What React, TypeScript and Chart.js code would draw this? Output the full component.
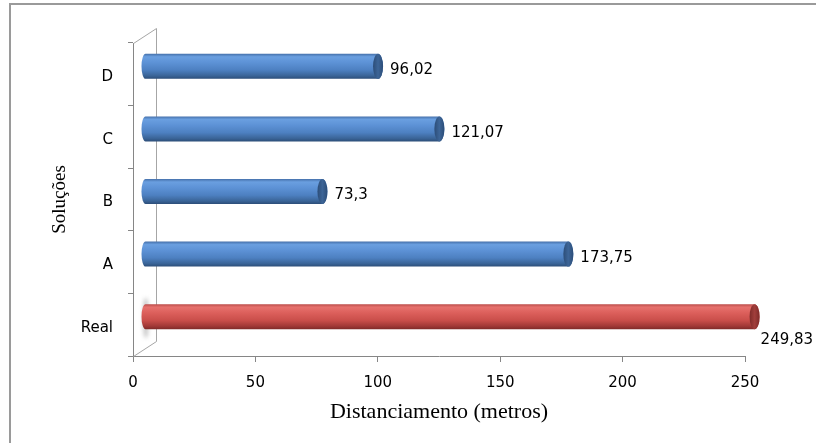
import React, { useEffect, useRef } from 'react';
import { Chart, registerables } from 'chart.js';

Chart.register(...registerables);

// ---- data ----
const categories = ['Real', 'A', 'B', 'C', 'D'];
const distances = [249.83, 173.75, 73.3, 121.07, 96.02];
const barKinds = ['red', 'blue', 'blue', 'blue', 'blue'];
const xTickValues = [0, 50, 100, 150, 200, 250];
const yAxisTitle = 'Soluções';
const xAxisTitle = 'Distanciamento (metros)';

const palettes: Record<string, { stops: [number, string][]; cap: string; capEdge: string }> = {
  blue: {
    stops: [
      [0, '#4570aa'],
      [0.12, '#6a9fe0'],
      [0.35, '#5d92d6'],
      [0.65, '#4d80c1'],
      [0.88, '#3a6497'],
      [1, '#2c4d78'],
    ],
    cap: '#3d6597',
    capEdge: '#2c4d78',
  },
  red: {
    stops: [
      [0, '#ba4c49'],
      [0.12, '#e6716d'],
      [0.35, '#dc5f5b'],
      [0.65, '#c94e4a'],
      [0.88, '#a03836'],
      [1, '#7e2a28'],
    ],
    cap: '#a13e3b',
    capEdge: '#7e2b29',
  },
};

const DX = 10;
const DY = -8;
const WALL_DX = 23;
const WALL_DY = -15;
const TICK_FONT = '"DejaVu Sans", sans-serif';
const TICK_SIZE = 15;

const formatValue = (v: number) => String(v).replace('.', ',');

const framePlugin = {
  id: 'frame3d',
  beforeDraw(chart: any) {
    const { ctx } = chart;
    ctx.save();
    ctx.fillStyle = '#ffffff';
    ctx.fillRect(0, 0, chart.width, chart.height);
    ctx.strokeStyle = '#9a9a9a';
    ctx.lineWidth = 2;
    ctx.strokeRect(10, 4, chart.width + 50, chart.height + 50);
    ctx.restore();
  },
  beforeDatasetsDraw(chart: any) {
    const { ctx, chartArea } = chart;
    const { left, top, bottom } = chartArea;
    ctx.save();
    ctx.strokeStyle = '#a6a6a6';
    ctx.lineWidth = 1;
    ctx.beginPath();
    ctx.moveTo(left + 0.5, top + 0.5);
    ctx.lineTo(left + WALL_DX + 0.5, top + WALL_DY + 0.5);
    ctx.lineTo(left + WALL_DX + 0.5, bottom + WALL_DY + 0.5);
    ctx.lineTo(left + 0.5, bottom + 0.5);
    ctx.stroke();
    // faint shadow on the wall next to the bottom bar
    ctx.filter = 'blur(2px)';
    const g = ctx.createLinearGradient(left + 8, 0, left + 17, 0);
    g.addColorStop(0, 'rgba(120,120,120,0)');
    g.addColorStop(0.5, 'rgba(110,110,110,0.55)');
    g.addColorStop(1, 'rgba(120,120,120,0)');
    ctx.fillStyle = g;
    ctx.beginPath();
    ctx.ellipse(left + 13, bottom - 38, 3, 20, 0, 0, Math.PI * 2);
    ctx.fill();
    ctx.filter = 'none';
    ctx.restore();
  },
};

const cylinderPlugin = {
  id: 'cylinders',
  beforeDatasetDraw(chart: any, args: any) {
    const { ctx } = chart;
    const meta = args.meta;
    ctx.save();
    meta.data.forEach((el: any, i: number) => {
      const { x, y, base, height } = el.getProps(['x', 'y', 'base', 'height'], true);
      const pal = palettes[barKinds[i]];
      const h = height;
      const cy = y + DY;
      const top = cy - h / 2;
      const bot = cy + h / 2;
      const xL = base + DX + 2;
      const xR = x + DX;
      const rx = 5;
      const rxL = 4;
      const grad = ctx.createLinearGradient(0, top, 0, bot);
      pal.stops.forEach(([o, c]) => grad.addColorStop(o, c));
      ctx.beginPath();
      ctx.moveTo(xL, top);
      ctx.lineTo(xR, top);
      ctx.ellipse(xR, cy, rx, h / 2, 0, -Math.PI / 2, Math.PI / 2);
      ctx.lineTo(xL, bot);
      ctx.ellipse(xL, cy, rxL, h / 2, 0, Math.PI / 2, (3 * Math.PI) / 2);
      ctx.closePath();
      ctx.fillStyle = grad;
      ctx.fill();
      // end cap
      ctx.beginPath();
      ctx.ellipse(xR, cy, rx, h / 2, 0, 0, Math.PI * 2);
      const cg = ctx.createLinearGradient(xR - rx, 0, xR + rx, 0);
      cg.addColorStop(0, pal.capEdge);
      cg.addColorStop(0.5, pal.cap);
      cg.addColorStop(1, pal.capEdge);
      ctx.fillStyle = cg;
      ctx.fill();
    });
    ctx.restore();
    return false;
  },
  afterDatasetsDraw(chart: any) {
    const { ctx } = chart;
    const meta = chart.getDatasetMeta(0);
    ctx.save();
    ctx.font = `${TICK_SIZE}px ${TICK_FONT}`;
    ctx.fillStyle = '#000000';
    ctx.textAlign = 'left';
    ctx.textBaseline = 'middle';
    meta.data.forEach((el: any, i: number) => {
      const { x, y } = el.getProps(['x', 'y'], true);
      const text = formatValue(distances[i]);
      const w = ctx.measureText(text).width;
      const xR = x + DX;
      let tx = xR + 12;
      let ty = y + DY + 4;
      if (tx + w > chart.width - 4) {
        tx = xR + 6;
        ty = y + DY + 23;
      }
      ctx.fillText(text, tx, ty);
    });
    ctx.restore();
  },
};

export default function App() {
  const canvasRef = useRef<HTMLCanvasElement | null>(null);

  useEffect(() => {
    const canvas = canvasRef.current;
    if (!canvas) return;
    const chart = new Chart(canvas, {
      type: 'bar',
      data: {
        labels: categories,
        datasets: [
          {
            data: distances,
            backgroundColor: barKinds.map((k) => (k === 'red' ? '#c0504d' : '#4f81bd')),
            categoryPercentage: 1,
            barPercentage: 0.4,
          },
        ],
      },
      options: {
        indexAxis: 'y',
        responsive: false,
        animation: false,
        events: [],
        layout: { padding: { left: 40, top: 43, right: 71, bottom: 0 } },
        plugins: {
          legend: { display: false },
          tooltip: { enabled: false },
          title: { display: false },
        },
        scales: {
          x: {
            type: 'linear',
            min: xTickValues[0],
            max: xTickValues[xTickValues.length - 1],
            afterFit: (scale: any) => {
              scale.height = 87;
            },
            afterBuildTicks: (scale: any) => {
              scale.ticks = xTickValues.map((v) => ({ value: v }));
            },
            ticks: {
              color: '#000000',
              font: { family: TICK_FONT, size: TICK_SIZE },
              padding: 12,
              maxRotation: 0,
            },
            grid: {
              display: true,
              drawOnChartArea: false,
              drawTicks: true,
              tickLength: 6,
              color: '#868686',
            },
            border: { display: true, color: '#868686', width: 1 },
            title: {
              display: true,
              text: xAxisTitle,
              color: '#000000',
              font: { family: '"Liberation Serif", "Times New Roman", serif', size: 22 },
              padding: { top: 0, bottom: 18 },
            },
          },
          y: {
            type: 'category',
            reverse: true,
            afterFit: (scale: any) => {
              scale.width = 93;
            },
            ticks: {
              color: '#000000',
              font: { family: TICK_FONT, size: TICK_SIZE },
              padding: 15,
              labelOffset: 3,
            },
            grid: {
              display: true,
              offset: true,
              drawOnChartArea: false,
              drawTicks: true,
              tickLength: 5,
              color: '#868686',
            },
            border: { display: true, color: '#868686', width: 1 },
            title: {
              display: true,
              text: yAxisTitle,
              color: '#000000',
              font: { family: '"Liberation Serif", "Times New Roman", serif', size: 19 },
              padding: { top: 9, bottom: 0 },
            },
          },
        },
      },
      plugins: [framePlugin, cylinderPlugin],
    });
    return () => chart.destroy();
  }, []);

  return (
    <div style={{ position: 'absolute', left: 0, top: 0, width: 816, height: 443 }}>
      <canvas ref={canvasRef} width={816} height={443} style={{ display: 'block' }} />
    </div>
  );
}
